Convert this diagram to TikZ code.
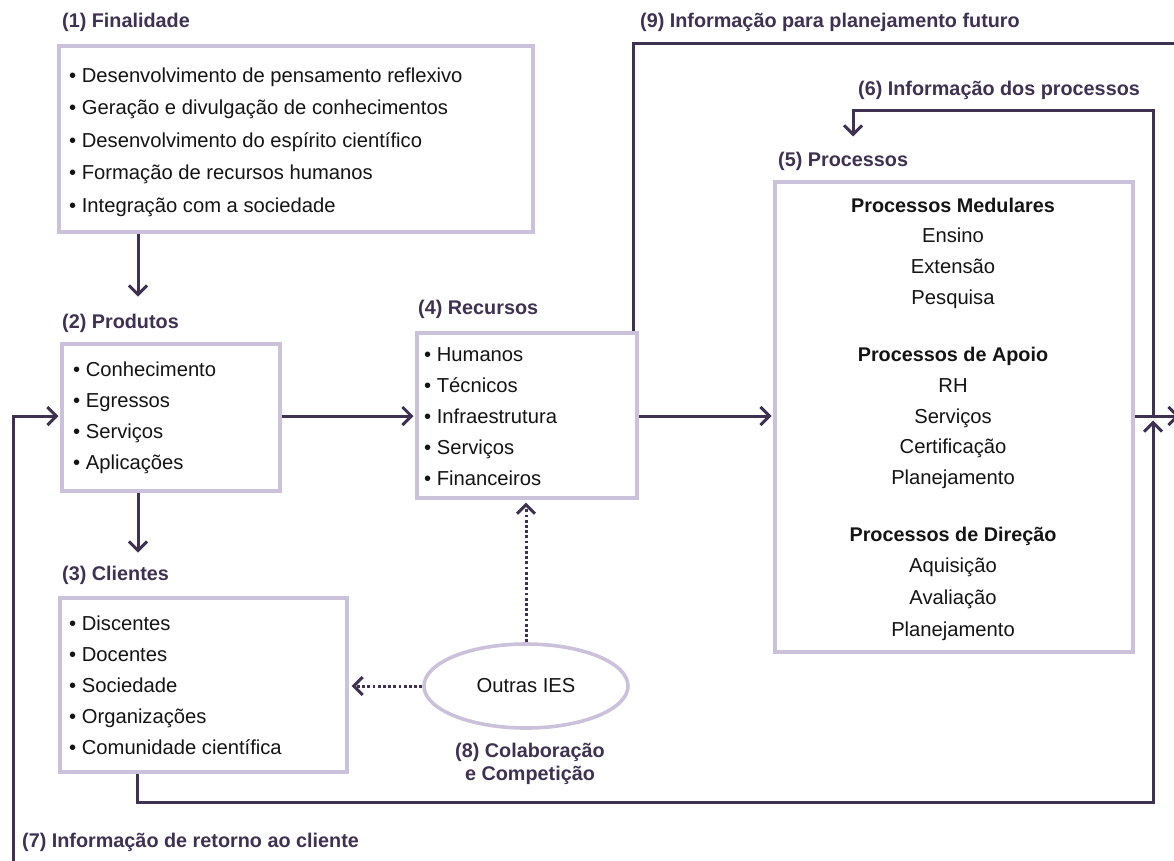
\documentclass[tikz,border=0pt]{standalone}
\usepackage{fontspec}
\setmainfont{Liberation Sans}
\usetikzlibrary{arrows.meta,shapes.geometric}
\definecolor{boxc}{HTML}{CCC1DA}
\definecolor{linec}{HTML}{3F3151}
\definecolor{txtc}{HTML}{141414}
\newcommand\fsz{\fontsize{20.2}{24}\selectfont}
\newcommand\fst{\fontsize{19.8}{24}\selectfont}
\tikzset{
  box/.style={draw=boxc, line width=3.6pt, anchor=north west, inner sep=0pt},
  tipx/.style={-{Straight Barb[length=9pt,width=18pt,line width=3pt]}},
  conn/.style={draw=linec, line width=3pt, tipx, shorten >=1.5pt},
  plain/.style={draw=linec, line width=3pt},
  dots/.style={draw=linec, line width=3pt, dash pattern=on 2.8pt off 2.4pt, tipx, shorten >=3pt},
  item/.style={anchor=base west, inner sep=0pt, font=\fsz, text=txtc},
  citem/.style={anchor=base, inner sep=0pt, font=\fsz, text=txtc},
  head/.style={anchor=base, inner sep=0pt, font=\fst\bfseries, text=txtc},
  ttl/.style={anchor=base west, inner sep=0pt, font=\fst\bfseries, text=linec},
  ctl/.style={anchor=base, inner sep=0pt, font=\fst\bfseries, text=linec},
}
\begin{document}
\begin{tikzpicture}[x=1pt,y=-1pt]
\clip (0,0) rectangle (1174,860);
\fill[white] (0,0) rectangle (1174,860);

% boxes
\node[box, minimum width=474pt, minimum height=186pt] (b1) at (57,44) {};
\node[box, minimum width=218pt, minimum height=147pt] (b2) at (60,342) {};
\node[box, minimum width=287pt, minimum height=174pt] (b3) at (58,596) {};
\node[box, minimum width=220pt, minimum height=165pt] (b4) at (415,331) {};
\node[box, minimum width=358pt, minimum height=470pt] (b5) at (773,180) {};
\node[draw=boxc, line width=3.6pt, ellipse, minimum width=204pt, minimum height=84pt,
      inner sep=0pt, font=\fsz, text=txtc] (ies) at (526,686) {Outras IES};

% titles
\node[ttl] (t1) at (62,27) {(1) Finalidade};
\node[ttl] (t2) at (62,328) {(2) Produtos};
\node[ttl] (t3) at (62,580) {(3) Clientes};
\node[ttl] (t4) at (418,314) {(4) Recursos};
\node[ttl] (t5) at (778,166) {(5) Processos};
\node[ttl] (t6) at (858,95) {(6) Informação dos processos};
\node[ttl] (t7) at (22,847) {(7) Informação de retorno ao cliente};
\node[ctl] (t8a) at (530,757) {(8) Colaboração};
\node[ctl] (t8b) at (530,780) {e Competição};
\node[ttl] (t9) at (640,27) {(9) Informação para planejamento futuro};

% items
\foreach \t [count=\i] in {Desenvolvimento de pensamento reflexivo,
  Geração e divulgação de conhecimentos,
  Desenvolvimento do espírito científico,
  Formação de recursos humanos,
  Integração com a sociedade}
  \node[item] (f\i) at (69,{82+(\i-1)*32.6}) {• \t};
\foreach \t [count=\i] in {Conhecimento, Egressos, Serviços, Aplicações}
  \node[item] (p\i) at (73,{376+(\i-1)*31}) {• \t};
\foreach \t [count=\i] in {Discentes, Docentes, Sociedade, Organizações, Comunidade científica}
  \node[item] (c\i) at (69,{630+(\i-1)*31.2}) {• \t};
\foreach \t [count=\i] in {Humanos, Técnicos, Infraestrutura, Serviços, Financeiros}
  \node[item] (r\i) at (424,{361+(\i-1)*31}) {• \t};

% processes
\node[head] (h1) at (953,212) {Processos Medulares};
\node[citem] (m1) at (953,242) {Ensino};
\node[citem] (m2) at (953,273) {Extensão};
\node[citem] (m3) at (953,304) {Pesquisa};
\node[head] (h2) at (953,361) {Processos de Apoio};
\node[citem] (a1) at (953,392) {RH};
\node[citem] (a2) at (953,423) {Serviços};
\node[citem] (a3) at (953,453) {Certificação};
\node[citem] (a4) at (953,484) {Planejamento};
\node[head] (h3) at (953,541) {Processos de Direção};
\node[citem] (d1) at (953,572) {Aquisição};
\node[citem] (d2) at (953,604) {Avaliação};
\node[citem] (d3) at (953,636) {Planejamento};

% helper coordinates
\coordinate (xa) at (138,0);
\coordinate (xc) at (137,0);
\coordinate (ya) at (0,416);
\coordinate (x9) at (633,0);
\coordinate (a12) at (138,298);
\coordinate (a23) at (138,554);
\coordinate (c9a) at (633,43);
\coordinate (c9b) at (1200,43);
\coordinate (outR) at (1181,416);
\coordinate (c6r) at (1153,416);
\coordinate (c6a) at (1153,110);
\coordinate (c6b) at (853,110);
\coordinate (c6c) at (853,138);
\coordinate (c7a) at (137,802);
\coordinate (c7b) at (1153,802);
\coordinate (c7c) at (1153,419);
\coordinate (c8a) at (13,900);
\coordinate (c8b) at (13,416);

% connectors
\draw[conn] (b1.south -| xa) -- (a12);
\draw[conn] (b2.south -| xa) -- (a23);
\draw[conn] (b2.east |- ya) -- (b4.west |- ya);
\draw[conn] (b4.east |- ya) -- (b5.west |- ya);
\draw[conn] (b5.east |- ya) -- (outR);
\draw[plain] (b4.north -| x9) -- (c9a) -- (c9b);
\draw[conn] (c6r) -- (c6a) -- (c6b) -- (c6c);
\draw[conn] (b3.south -| xc) -- (c7a) -- (c7b) -- (c7c);
\draw[conn] (c8a) -- (c8b) -- (b2.west |- ya);
\draw[dots] (ies.north) -- (ies.north |- b4.south);
\draw[dots] (ies.west) -- (ies.west -| b3.east);
\end{tikzpicture}
\end{document}
